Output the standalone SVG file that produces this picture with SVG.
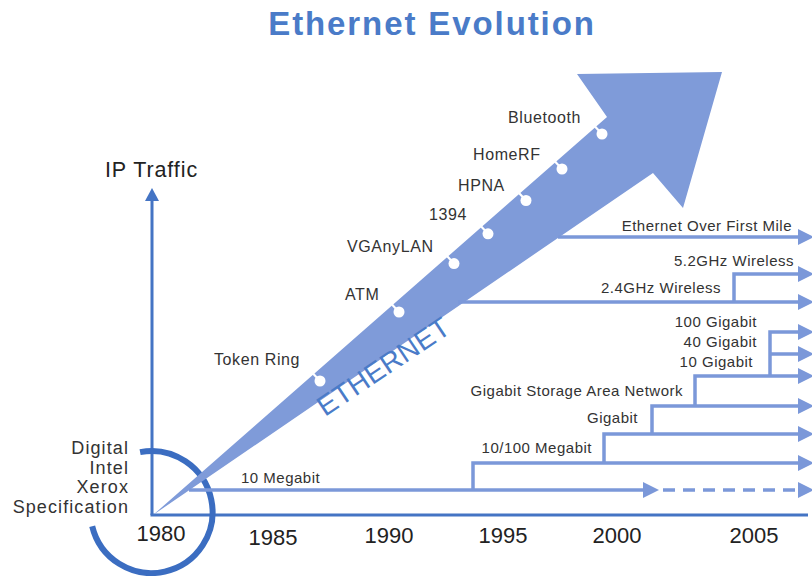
<svg xmlns="http://www.w3.org/2000/svg" width="812" height="576" viewBox="0 0 812 576">
<defs>
<style>
text{font-family:"Liberation Sans",Arial,Helvetica,sans-serif;fill:#333}
.lbl{font-size:15px;letter-spacing:0.5px}
.tech{font-size:16px;letter-spacing:0.6px}
.yr{font-size:22px;fill:#222;text-anchor:middle}
.stk{font-size:18px;letter-spacing:1.1px;text-anchor:end}
.ln{fill:none;stroke:#7b98d9;stroke-width:3.5}
.ah{fill:#7b98d9}
.ax{stroke:#4474c4;stroke-width:3;fill:none}
.dot{fill:#fff}
.tick{stroke:#fff;stroke-width:2.2}
</style>
</defs>
<rect width="812" height="576" fill="#fff"/>

<g id="title">
<text x="432" y="35" style="font-size:33px;font-weight:bold;letter-spacing:1.9px;fill:#4a7bc8;text-anchor:middle">Ethernet Evolution</text>
</g>

<g id="axes">
<line class="ax" x1="152" y1="515" x2="152" y2="198"/>
<polygon points="152,188 145,201 159,201" fill="#4474c4"/>
<line class="ax" x1="150.5" y1="515" x2="808" y2="515"/>
<text x="105" y="177" style="font-size:21.5px;letter-spacing:0.9px;fill:#222">IP Traffic</text>
</g>

<g id="years">
<text class="yr" x="161" y="541">1980</text>
<text class="yr" x="273" y="545">1985</text>
<text class="yr" x="389" y="543">1990</text>
<text class="yr" x="503" y="543">1995</text>
<text class="yr" x="617" y="543">2000</text>
<text class="yr" x="754" y="543">2005</text>
</g>

<g id="origin-spec">
<path d="M140.1,452.1 A61,61 0 1 1 92.2,526.2" fill="none" stroke="#3b6dc1" stroke-width="6"/>
<text class="stk" x="129" y="454">Digital</text>
<text class="stk" x="129" y="474">Intel</text>
<text class="stk" x="129" y="493">Xerox</text>
<text class="stk" x="129" y="513">Specification</text>
</g>

<g id="ethernet-arrow">
<polygon points="153,515 607,117 577,74 722,72 683,208 653,173" fill="#7f9bd9"/>
<text transform="translate(325,417) rotate(-33.8)" style="font-size:28px;fill:#4a7bc8;letter-spacing:0.3px">ETHERNET</text>
</g>

<g id="token-ring">
<line class="tick" x1="313" y1="373.5" x2="320" y2="381"/><circle class="dot" cx="320" cy="381" r="5.5"/>
<text class="tech" x="214" y="365">Token Ring</text>
</g>
<g id="atm">
<line class="tick" x1="392" y1="304.5" x2="399" y2="312"/><circle class="dot" cx="399" cy="312" r="5.5"/>
<text class="tech" x="345" y="300">ATM</text>
</g>
<g id="vganylan">
<line class="tick" x1="447" y1="256" x2="454" y2="263.6"/><circle class="dot" cx="454" cy="263.6" r="5.5"/>
<text class="tech" x="347" y="252">VGAnyLAN</text>
</g>
<g id="t1394">
<line class="tick" x1="481" y1="226.3" x2="488" y2="233.8"/><circle class="dot" cx="488" cy="233.8" r="5.5"/>
<text class="tech" x="429" y="220">1394</text>
</g>
<g id="hpna">
<line class="tick" x1="519" y1="193" x2="526" y2="200.5"/><circle class="dot" cx="526" cy="200.5" r="5.5"/>
<text class="tech" x="458" y="191">HPNA</text>
</g>
<g id="homerf">
<line class="tick" x1="555" y1="161.5" x2="562" y2="169"/><circle class="dot" cx="562" cy="169" r="5.5"/>
<text class="tech" x="473" y="160">HomeRF</text>
</g>
<g id="bluetooth">
<line class="tick" x1="595" y1="126.5" x2="602" y2="134"/><circle class="dot" cx="602" cy="134" r="5.5"/>
<text class="tech" x="508" y="123">Bluetooth</text>
</g>

<g id="connectors">
<path class="ln" d="M558,237 H800"/>
<polygon class="ah" points="798,229 814,237 798,245"/>
<path class="ln" d="M458,302 H800 M734,302 V274 H800"/>
<polygon class="ah" points="798,294 814,302 798,310"/>
<polygon class="ah" points="798,266 814,274 798,282"/>
<path class="ln" d="M695,406 V376 H800 M770,376 V332 H800 M770,354 H800"/>
<polygon class="ah" points="798,324 814,332 798,340"/>
<polygon class="ah" points="798,346 814,354 798,362"/>
<polygon class="ah" points="798,368 814,376 798,384"/>
<path class="ln" d="M652,434 V406 H800"/>
<polygon class="ah" points="798,398 814,406 798,414"/>
<path class="ln" d="M604,463 V434 H800"/>
<polygon class="ah" points="798,426 814,434 798,442"/>
<path class="ln" d="M473,490 V463 H800"/>
<polygon class="ah" points="798,455 814,463 798,471"/>
<path class="ln" d="M189,490 H646"/>
<polygon class="ah" points="643,482 659,490 643,498"/>
<path class="ln" d="M663,490 H800" stroke-dasharray="12,8"/>
<polygon class="ah" points="798,482 814,490 798,498"/>
</g>

<g id="labels">
<text class="lbl" x="792" y="231" text-anchor="end">Ethernet Over First Mile</text>
<text class="lbl" x="794" y="266" text-anchor="end">5.2GHz Wireless</text>
<text class="lbl" x="721" y="293" text-anchor="end">2.4GHz Wireless</text>
<text class="lbl" x="757" y="327" text-anchor="end">100 Gigabit</text>
<text class="lbl" x="757" y="347" text-anchor="end">40 Gigabit</text>
<text class="lbl" x="753" y="367" text-anchor="end">10 Gigabit</text>
<text class="lbl" x="683" y="396" text-anchor="end">Gigabit Storage Area Network</text>
<text class="lbl" x="638" y="423" text-anchor="end">Gigabit</text>
<text class="lbl" x="592" y="453" text-anchor="end">10/100 Megabit</text>
<text class="lbl" x="241" y="483">10 Megabit</text>
</g>
</svg>
